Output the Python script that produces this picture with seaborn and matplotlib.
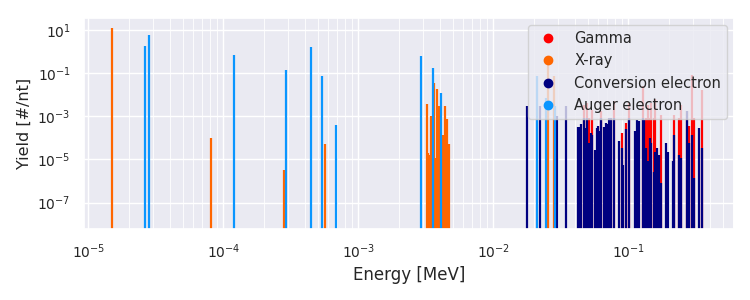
import numpy as np
import pandas as pd
import matplotlib
matplotlib.use("Agg")
import matplotlib.pyplot as plt
from matplotlib.lines import Line2D
import seaborn as sns

# ---------------- data (energy in MeV, yield in #/nt) ----------------
gamma_energy = [0.0472, 0.0494, 0.0514, 0.0538, 0.0631, 0.0778, 0.0897, 0.0966,
                0.1005, 0.1276, 0.1352, 0.139, 0.144, 0.148, 0.154, 0.158,
                0.175, 0.219, 0.236, 0.245, 0.272, 0.280, 0.296, 0.305, 0.352]
gamma_yield = [3.4e-3, 4.0e-3, 8.0e-4, 2.0e-3, 1.7e-3, 4.8e-3, 1.7e-4, 5.0e-4,
               4.0e-3, 2.4e-2, 8.0e-4, 3.4e-3, 8.0e-4, 4.0e-3, 8.0e-4, 6.0e-3,
               1.15e-3, 1.15e-3, 8.0e-4, 3.4e-3, 1.65e-3, 3.6e-4, 8.3e-2, 8.0e-4, 1.7e-2]

xray_energy = [1.5e-5, 8.1e-5, 2.84e-4, 5.7e-4, 3.21e-3, 3.28e-3, 3.36e-3, 3.43e-3,
               3.64e-3, 3.72e-3, 3.85e-3, 3.98e-3, 4.05e-3, 4.22e-3, 4.39e-3,
               4.57e-3, 4.74e-3, 0.0255, 0.0283]
xray_yield = [12.0, 1.0e-4, 3.3e-6, 5.3e-5, 3.7e-3, 2.0e-5, 1.6e-5, 1.0e-3,
              3.4e-2, 1.2e-5, 1.9e-2, 3.0e-3, 3.0e-4, 1.4e-4, 2.8e-3,
              7.0e-4, 5.0e-5, 0.41, 0.069]

ce_energy = [0.0178, 0.0223, 0.0296, 0.0346, 0.0424, 0.0437, 0.0449, 0.0472,
             0.0483, 0.0494, 0.0514, 0.0528, 0.0538, 0.0570, 0.0586, 0.0598,
             0.0610, 0.0631, 0.0656, 0.0687, 0.0705, 0.0723, 0.0748, 0.0778,
             0.0857, 0.0897, 0.0922, 0.0966, 0.1005, 0.1127, 0.1159, 0.1205,
             0.1276, 0.1315, 0.1352, 0.139, 0.144, 0.148, 0.154, 0.158, 0.163,
             0.170, 0.175, 0.191, 0.197, 0.214, 0.219, 0.236, 0.245, 0.272,
             0.280, 0.296, 0.305, 0.332, 0.352]
ce_yield = [2.8e-3, 2.8e-3, 1.0e-3, 2.8e-3, 3.3e-4, 3.3e-4, 4.4e-4, 8.0e-4,
            2.8e-4, 8.0e-4, 5.6e-5, 1.7e-4, 1.4e-4, 2.8e-5, 2.8e-4, 3.5e-4,
            2.0e-4, 8.0e-4, 3.0e-4, 4.8e-4, 4.4e-4, 8.0e-4, 8.0e-4, 8.0e-4,
            7.0e-5, 3.3e-5, 5.6e-6, 2.5e-4, 8.0e-4, 2.0e-4, 6.8e-4, 6.0e-4,
            8.0e-4, 6.8e-4, 3.3e-5, 8.0e-6, 1.0e-4, 5.6e-5, 2.7e-6, 2.3e-5,
            3.3e-5, 1.6e-5, 8.0e-7, 5.6e-5, 2.3e-5, 8.0e-6, 1.4e-4, 1.6e-5,
            1.1e-5, 1.65e-3, 5.6e-5, 1.4e-4, 1.35e-6, 2.8e-4, 3.3e-5]

auger_energy = [2.64e-5, 2.83e-5, 1.2e-4, 2.93e-4, 4.47e-4, 5.4e-4, 6.8e-4,
                2.92e-3, 3.55e-3, 4.12e-3, 0.0211, 0.0246, 0.0286]
auger_yield = [1.8, 5.9, 0.7, 0.14, 1.6, 0.074, 4.0e-4,
               0.59, 0.17, 0.012, 0.069, 7.0e-3, 2.8e-3]

series = [
    ("Gamma", gamma_energy, gamma_yield, "#ff0000"),
    ("X-ray", xray_energy, xray_yield, "#ff6600"),
    ("Conversion electron", ce_energy, ce_yield, "#000080"),
    ("Auger electron", auger_energy, auger_yield, "#0a96ff"),
]

y_ticks = [1e1, 1e-1, 1e-3, 1e-5, 1e-7]

# ---------------- plot ----------------
sns.set_theme(style="darkgrid")
plt.rcParams["font.family"] = ["DejaVu Sans"]

fig, ax = plt.subplots(figsize=(7.5, 3.0), dpi=100)
fig.subplots_adjust(left=0.112, right=0.979, top=0.94, bottom=0.237)

baseline = 1e-10
handles = []
for name, e, y, c in series:
    ax.vlines(e, baseline, y, colors=c, linewidth=1.6)
    handles.append(Line2D([], [], linestyle="none", marker="o", markersize=6,
                          markerfacecolor=c, markeredgecolor=c, label=name))

ax.set_xscale("log")
ax.set_yscale("log")
ax.set_xlim(9.3e-6, 0.61)
ax.set_ylim(6e-9, 35)
ax.set_yticks(y_ticks)
ax.yaxis.set_minor_locator(matplotlib.ticker.NullLocator())
ax.grid(which="minor", axis="x", color="white", linewidth=0.6)
ax.grid(which="major", color="white", linewidth=1.0)

ax.set_xlabel("Energy [MeV]", fontsize=12)
ax.set_ylabel("Yield [#/nt]", fontsize=11.5)
ax.tick_params(labelsize=10)

ax.legend(handles=handles, loc="upper right", fontsize=10.5, framealpha=0.8)

fig.savefig("out.png", dpi=100)
